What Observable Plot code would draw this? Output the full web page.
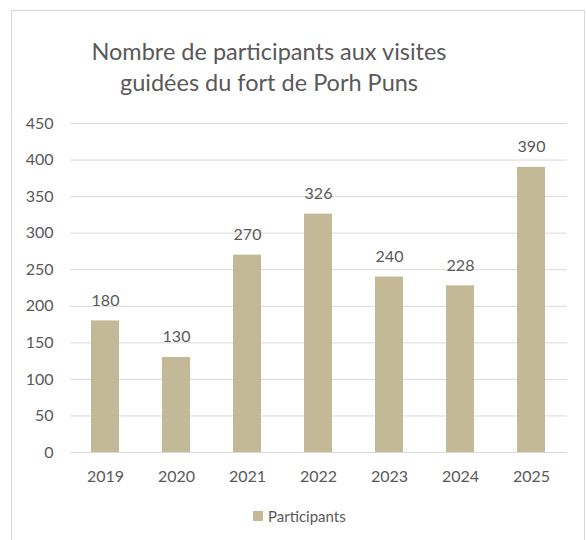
<!DOCTYPE html>
<html>
<head>
<meta charset="utf-8">
<script src="https://cdn.jsdelivr.net/npm/d3@7"></script>
<script src="https://cdn.jsdelivr.net/npm/@observablehq/plot@0.6"></script>
<style>
  html, body { margin: 0; padding: 0; background: #fff; }
  body { width: 586px; height: 540px; position: relative; overflow: hidden; font-family: Lato, sans-serif; }
  #frame { position: absolute; left: 11px; top: 10px; width: 574px; height: 540px; border: 1px solid #d9d9d9; border-bottom: none; box-sizing: border-box; }
  #title { position: absolute; left: 0; top: 0; width: 538px; height: 105px; text-align: center; color: #595959; font-size: 23.5px; line-height: 31px; padding-top: 36px; box-sizing: border-box; }
  #chart { position: absolute; left: 0; top: 105px; }
  #legend { position: absolute; left: 253px; top: 507px; color: #595959; font-size: 15px; display: flex; align-items: center; }
  #legend .sw { width: 10px; height: 10px; margin-right: 5px; }
</style>
</head>
<body>
<div id="frame"></div>
<div id="title">Nombre de participants aux visites<br>guidées du fort de Porh Puns</div>
<div id="chart"></div>
<div id="legend"><span class="sw"></span><span id="legtext"></span></div>
<script>
const years = ["2019", "2020", "2021", "2022", "2023", "2024", "2025"];
const participants = [180, 130, 270, 326, 240, 228, 390];
const yTicks = [0, 50, 100, 150, 200, 250, 300, 350, 400, 450];
const seriesName = "Participants";
const barColor = "#c4b996";

const data = years.map((y, i) => ({year: y, value: participants[i]}));

const chart = Plot.plot({
  width: 586,
  height: 385,
  marginTop: 18,
  marginBottom: 38,
  marginLeft: 70,
  marginRight: 19,
  style: {fontFamily: "Lato, sans-serif", fontSize: "16px", color: "#595959", background: "transparent"},
  x: {domain: years, paddingInner: 0.6, paddingOuter: 0.3, label: null},
  y: {domain: [0, 450], label: null},
  marks: [
    Plot.gridY(yTicks, {stroke: "#d9d9d9", strokeOpacity: 1}),
    Plot.barY(data, {x: "year", y: "value", fill: barColor}),
    Plot.ruleY([0], {stroke: "#d9d9d9"}),
    Plot.text(data, {x: "year", y: "value", text: d => String(d.value), dy: -15, lineAnchor: "bottom", fill: "#595959", fontSize: 16}),
    Plot.axisY(yTicks, {tickSize: 0, tickPadding: 17, label: null, fill: "#595959", fontSize: 16}),
    Plot.axisX({tickSize: 0, tickPadding: 18, label: null, fill: "#595959", fontSize: 16})
  ]
});
document.getElementById("chart").appendChild(chart);
document.querySelector("#legend .sw").style.background = barColor;
document.getElementById("legtext").textContent = seriesName;
</script>
</body>
</html>
